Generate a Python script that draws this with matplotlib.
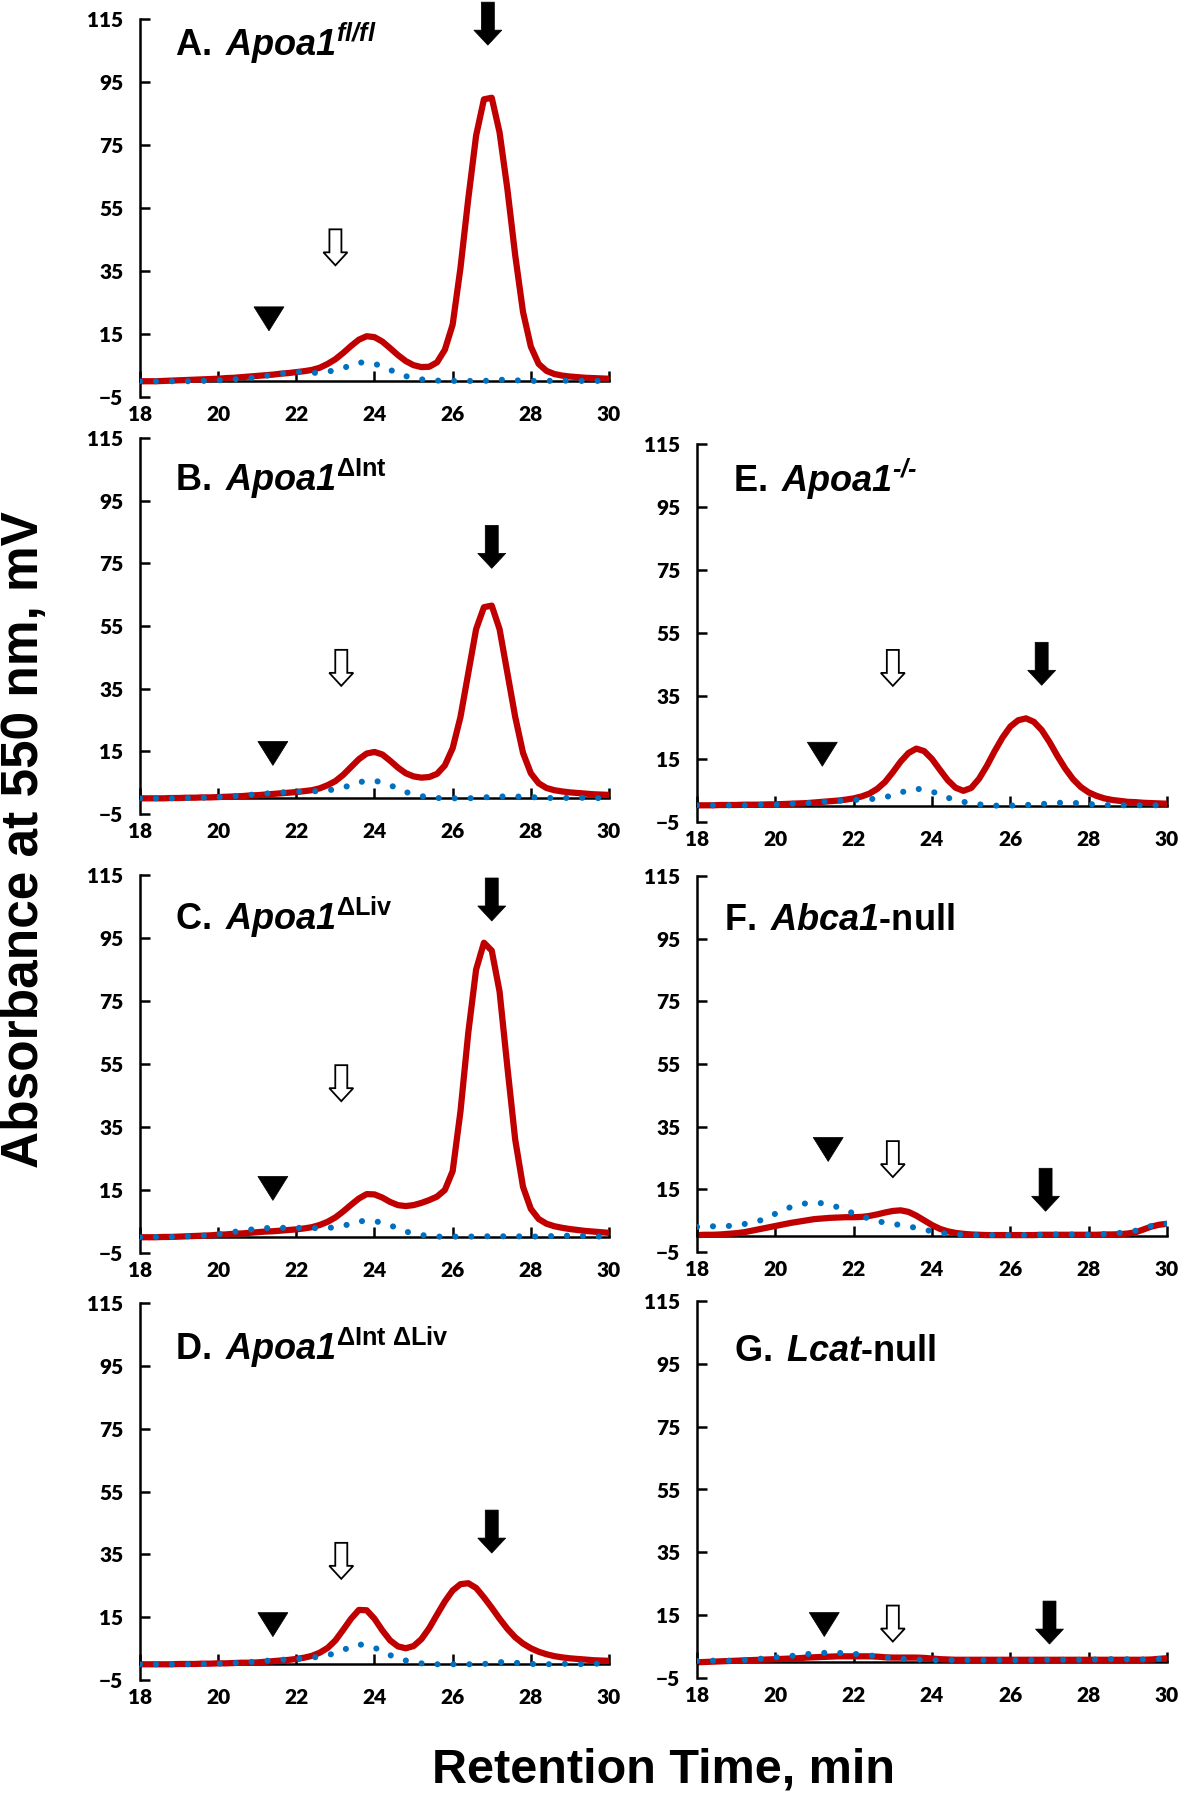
import numpy as np
import matplotlib
matplotlib.use("Agg")
import matplotlib.pyplot as plt
from matplotlib.patches import Polygon
from matplotlib.transforms import ScaledTranslation

plt.rcParams['font.family'] = ['Liberation Sans', 'DejaVu Sans']
plt.rcParams['mathtext.fontset'] = 'custom'
plt.rcParams['mathtext.rm'] = 'Liberation Sans'
plt.rcParams['mathtext.it'] = 'Liberation Sans:italic'
plt.rcParams['mathtext.bf'] = 'Liberation Sans:bold'
plt.rcParams['mathtext.bfit'] = 'Liberation Sans:italic:bold'

W, H = 1184, 1800

# retention time grids (min)
t_red = np.round(np.arange(18.0, 30.01, 0.2), 1)
t_blue = np.round(np.arange(18.0, 30.01, 0.4), 1)

# solid red traces (mV), one value per 0.2 min
red_A = [0, 0, 0, 0.1, 0.2, 0.3, 0.4, 0.5, 0.6, 0.7,
         0.8, 1.0, 1.1, 1.3, 1.5, 1.7, 1.9, 2.1, 2.4, 2.6,
         2.9, 3.2, 3.6, 4.3, 5.5, 7.0, 9.0, 11.2, 13.2, 14.3,
         14.0, 12.6, 10.5, 8.3, 6.4, 5.1, 4.5, 4.6, 6.0, 10.0,
         18.0, 36.0, 58.0, 78.0, 89.5, 90.0, 79.0, 61.0, 40.0, 22.0,
         11.0, 5.5, 3.3, 2.3, 1.8, 1.5, 1.3, 1.1, 1.0, 0.9,
         0.8]
red_B = [0, 0, 0, 0, 0.1, 0.1, 0.2, 0.2, 0.3, 0.3,
         0.4, 0.5, 0.6, 0.7, 0.9, 1.0, 1.2, 1.4, 1.6, 1.8,
         2.0, 2.3, 2.6, 3.2, 4.2, 5.5, 7.5, 10.0, 12.5, 14.3,
         14.8, 14.0, 12.0, 9.8, 8.0, 7.0, 6.6, 6.8, 7.8, 10.5,
         16.0, 26.0, 40.0, 54.0, 61.0, 61.5, 54.0, 40.0, 26.0, 14.5,
         8.0, 4.8, 3.3, 2.6, 2.2, 1.9, 1.7, 1.5, 1.3, 1.2,
         1.1]
red_C = [0, 0, 0, 0.1, 0.1, 0.2, 0.3, 0.4, 0.5, 0.6,
         0.8, 0.9, 1.1, 1.2, 1.4, 1.6, 1.8, 1.9, 2.1, 2.3,
         2.5, 2.8, 3.2, 3.9, 4.9, 6.3, 8.2, 10.3, 12.3, 13.7,
         13.6, 12.6, 11.2, 10.2, 9.9, 10.2, 10.9, 11.8, 12.9, 15.0,
         21.0, 40.0, 65.0, 85.0, 93.5, 91.0, 78.0, 54.0, 31.0, 16.0,
         9.0, 5.8, 4.3, 3.5, 3.0, 2.6, 2.3, 2.0, 1.8, 1.6,
         1.4]
red_D = [0, 0, 0, 0, 0, 0.1, 0.1, 0.1, 0.2, 0.2,
         0.3, 0.3, 0.4, 0.5, 0.5, 0.6, 0.8, 1.0, 1.2, 1.4,
         1.7, 2.1, 2.7, 3.7, 5.2, 7.6, 11.0, 14.5, 17.3, 17.2,
         14.5, 10.8, 7.6, 5.7, 5.1, 5.8, 8.0, 11.5, 15.8, 20.0,
         23.5, 25.5, 25.8, 24.3, 21.3, 18.0, 14.5, 11.3, 8.6, 6.6,
         5.1, 4.0, 3.2, 2.6, 2.2, 1.9, 1.7, 1.5, 1.3, 1.2,
         1.1]
red_E = [0.3, 0.3, 0.3, 0.4, 0.4, 0.4, 0.5, 0.5, 0.5, 0.6,
         0.6, 0.7, 0.8, 0.9, 1.0, 1.2, 1.4, 1.6, 1.8, 2.1,
         2.5, 3.1, 4.0, 5.5, 7.7, 10.8, 14.2, 16.9, 18.3, 17.5,
         15.0, 11.6, 8.3, 5.9, 4.9, 5.8, 8.7, 12.8, 17.5, 21.8,
         25.3, 27.3, 27.9, 26.8, 24.2, 20.4, 16.0, 12.0, 8.6, 6.1,
         4.4, 3.3, 2.5, 2.0, 1.7, 1.4, 1.3, 1.1, 1.0, 0.9,
         0.8]
red_F = [0.4, 0.5, 0.5, 0.6, 0.8, 1.0, 1.3, 1.8, 2.3, 2.8,
         3.3, 3.8, 4.3, 4.7, 5.1, 5.5, 5.7, 5.9, 6.0, 6.1,
         6.1, 6.2, 6.5, 7.0, 7.6, 8.1, 8.3, 7.8, 6.6, 5.1,
         3.6, 2.4, 1.6, 1.1, 0.8, 0.6, 0.5, 0.4, 0.4, 0.4,
         0.4, 0.4, 0.4, 0.4, 0.5, 0.5, 0.5, 0.5, 0.5, 0.5,
         0.5, 0.5, 0.6, 0.6, 0.7, 0.9, 1.3, 2.2, 3.1, 3.7,
         4.0]
red_G = [0.0, 0.1, 0.2, 0.3, 0.4, 0.5, 0.6, 0.7, 0.8, 0.9,
         1.0, 1.1, 1.2, 1.3, 1.5, 1.6, 1.7, 1.8, 1.9, 1.9,
         1.9, 1.9, 1.9, 1.8, 1.6, 1.5, 1.5, 1.5, 1.5, 1.4,
         1.2, 1.0, 0.9, 0.8, 0.8, 0.8, 0.8, 0.8, 0.8, 0.8,
         0.8, 0.8, 0.8, 0.8, 0.8, 0.8, 0.8, 0.8, 0.8, 0.8,
         0.8, 0.8, 0.8, 0.8, 0.8, 0.8, 0.8, 0.8, 0.9, 1.1,
         1.3]

# dotted blue traces (mV), one value per 0.4 min
blue_A = [0, 0, 0, 0, 0.1, 0.3, 0.6, 1.0, 1.7, 2.4, 3.0, 2.6, 3.0, 4.2, 6.0, 5.6,
          3.6, 1.6, 0.6, 0.2, 0.1, 0.1, 0.1, 0.5, 0.3, 0.1, 0.1, 0.2, 0.1, 0.1, 0.1]
blue_B = [0, 0, 0, 0.1, 0.2, 0.4, 0.7, 1.1, 1.5, 1.9, 2.1, 2.2, 2.5, 3.4, 5.2, 5.7,
          4.2, 2.0, 0.7, 0.1, 0, 0, 0.3, 0.6, 0.6, 0.4, 0.1, 0.1, 0.2, 0.1, 0]
blue_C = [0, 0.1, 0.1, 0.3, 0.5, 1.0, 1.7, 2.4, 2.9, 3.0, 3.0, 2.9, 2.9, 3.6, 5.1, 5.2,
          3.8, 1.8, 0.7, 0.2, 0.2, 0.2, 0.3, 0.3, 0.3, 0.2, 0.3, 0.5, 0.5, 0.3, 0.1]
blue_D = [0, 0, 0, 0, 0.1, 0.2, 0.4, 0.7, 1.1, 1.4, 1.7, 2.1, 2.8, 4.6, 6.4, 5.3,
          2.9, 1.2, 0.3, 0, 0, 0, 0.1, 0.7, 0.5, 0.1, 0, 0.2, 0, 0.2, 0.2]
blue_E = [0.3, 0.3, 0.3, 0.3, 0.5, 0.5, 0.8, 1.0, 1.4, 1.7, 2.0, 2.2, 2.8, 4.4, 5.6, 4.7,
          2.7, 1.4, 0.6, 0.2, 0.2, 0.4, 0.7, 1.1, 1.1, 0.7, 0.4, 0.3, 0.3, 0.3, 0.3]
blue_F = [3.0, 3.2, 3.3, 3.9, 5.0, 7.2, 9.4, 10.6, 10.6, 9.3, 7.3, 5.6, 4.3, 3.6, 2.7, 1.6,
          0.8, 0.5, 0.4, 0.4, 0.4, 0.4, 0.5, 0.6, 0.6, 0.5, 0.7, 1.1, 1.8, 3.3, 4.0]
blue_G = [0.4, 0.5, 0.5, 0.7, 1.1, 1.6, 2.0, 2.6, 3.0, 3.0, 2.7, 2.2, 1.6, 1.1, 0.9, 0.7,
          0.7, 0.7, 0.7, 0.7, 0.7, 0.7, 0.8, 0.8, 0.8, 0.8, 1.0, 1.0, 0.9, 0.9, 1.3]

titles = [r"$\mathbf{A.}\;\mathbfit{Apoa1}^{\mathbfit{fl/fl}}$",
          r"$\mathbf{B.}\;\mathbfit{Apoa1}^{\mathbf{ΔInt}}$",
          r"$\mathbf{C.}\;\mathbfit{Apoa1}^{\mathbf{ΔLiv}}$",
          r"$\mathbf{D.}\;\mathbfit{Apoa1}^{\mathbf{ΔInt\ ΔLiv}}$",
          r"$\mathbf{E.}\;\mathbfit{Apoa1}^{\mathbfit{‐/‐}}$",
          r"$\mathbf{F.}\;\mathbfit{Abca1}\mathbf{‐null}$",
          r"$\mathbf{G.}\;\mathbfit{Lcat}\mathbf{‐null}$"]
title_x = [18.9, 18.9, 18.9, 18.9, 18.92, 18.7, 18.95]
title_y = [103.3, 98.0, 97.7, 97.0, 99.9, 97.7, 96.0]

# arrow / arrowhead marks (x, tip y)
filled_x = [26.9, 27.0, 27.0, 27.0, 26.8, 26.9, 27.0]
filled_tip = [106.7, 73.4, 100.4, 35.4, 38.4, 8.0, 5.8]
open_x = [23.0, 23.15, 23.15, 23.15, 23.0, 23.0, 23.0]
open_tip = [36.8, 35.9, 43.2, 27.2, 38.2, 18.9, 6.6]
tri_x = [21.3, 21.4, 21.4, 21.4, 21.2, 21.35, 21.25]
tri_tip = [16.0, 10.5, 11.7, 8.8, 12.7, 23.9, 8.2]

reds = [red_A, red_B, red_C, red_D, red_E, red_F, red_G]
blues = [blue_A, blue_B, blue_C, blue_D, blue_E, blue_F, blue_G]

# axes boxes in pixels: left, top, right, bottom
boxes = [(140, 19, 609, 397), (140, 438, 609, 814), (140, 875, 609, 1253),
         (140, 1303, 609, 1680), (697, 444, 1167, 822), (697, 876, 1167, 1252),
         (697, 1301, 1167, 1678)]

# shapes in pixels, tip at origin
filled_shape = [(0, 0), (-14, 15), (-6.5, 15), (-6.5, 43), (6.5, 43), (6.5, 15), (14, 15)]
open_shape = [(0, 0), (-12, 13), (-6, 13), (-6, 36), (6, 36), (6, 13), (12, 13)]
tri_shape = [(0, 0), (-15, 24), (15, 24)]

fig = plt.figure(figsize=(W / 100, H / 100), dpi=100)


def add_shape(ax, shape, x, y, face, edge, lw):
    trans = fig.dpi_scale_trans + ScaledTranslation(x, y, ax.transData)
    verts = [(px / 100, py / 100) for px, py in shape]
    p = Polygon(verts, closed=True, transform=trans, facecolor=face,
                edgecolor=edge, linewidth=lw, clip_on=False, zorder=5)
    ax.add_patch(p)


for i in range(7):
    l, t, r, b = boxes[i]
    ax = fig.add_axes([l / W, 1 - b / H, (r - l) / W, (b - t) / H])
    ax.set_xlim(18, 30)
    ax.set_ylim(-5, 115)
    ax.set_yticks(range(-5, 116, 20))
    ax.set_xticks(range(18, 31, 2))
    for s in ['top', 'right', 'bottom']:
        ax.spines[s].set_visible(False)
    ax.spines['left'].set_linewidth(1.8)
    ax.tick_params(axis='y', direction='in', length=7, width=1.8, pad=12, labelsize=15)
    ax.tick_params(axis='x', length=0, pad=6, labelsize=15)
    for lbl in ax.get_xticklabels() + ax.get_yticklabels():
        lbl.set_fontfamily(['Lato', 'DejaVu Sans'])
        lbl.set_fontweight('heavy')

    # zero line with inward ticks
    sec = ax.secondary_xaxis(5 / 120)
    sec.set_alignment('bottom')
    sec.set_xticks(range(18, 31, 2))
    sec.tick_params(direction='in', length=7, width=1.8, labelbottom=False, labeltop=False)
    sec.spines['bottom'].set_linewidth(1.8)

    ax.plot(t_red, reds[i], color='#C00000', lw=4.5, solid_joinstyle='round', zorder=2)
    ax.plot(t_blue, blues[i], color='#0070C0', lw=4.4, linestyle=(0, (0.01, 2.6)),
            dash_capstyle='round', zorder=3)

    ax.text(title_x[i], title_y[i], titles[i], fontsize=26, ha='left', va='baseline')

    add_shape(ax, filled_shape, filled_x[i], filled_tip[i], 'black', 'black', 0.5)
    add_shape(ax, open_shape, open_x[i], open_tip[i], 'white', 'black', 1.3)
    add_shape(ax, tri_shape, tri_x[i], tri_tip[i], 'black', 'black', 0.5)

fig.text(25 / W, 1 - 840 / H, 'Absorbance at 550 nm, mV', rotation=90,
         ha='center', va='center', fontsize=37, fontweight='bold')
fig.text(663 / W, 1 - 1770 / H, 'Retention Time, min', ha='center', va='center',
         fontsize=35, fontweight='bold')

fig.savefig('out.png', dpi=100)
